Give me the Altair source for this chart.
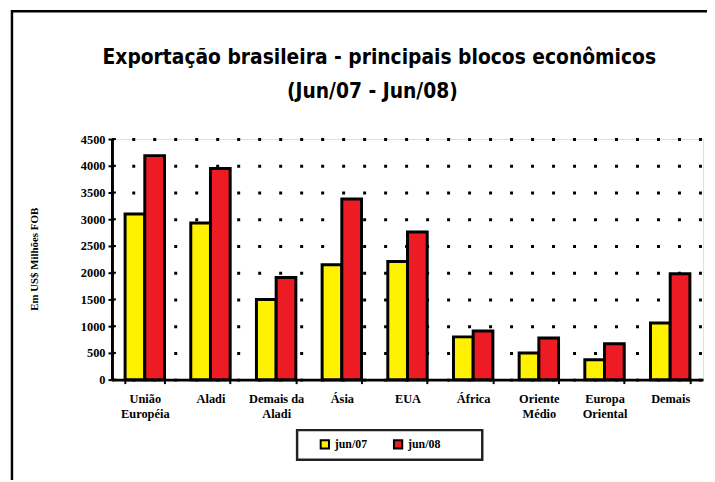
import altair as alt
import pandas as pd

categories = ["União Européia", "Aladi", "Demais da Aladi", "Ásia", "EUA",
              "África", "Oriente Médio", "Europa Oriental", "Demais"]
jun07 = [3100, 2930, 1500, 2150, 2210, 800, 500, 370, 1060]
jun08 = [4190, 3950, 1910, 3380, 2760, 910, 780, 670, 1980]
series = ["jun/07", "jun/08"]
colors = ["#FFF200", "#ED1C24"]
y_ticks = [0, 500, 1000, 1500, 2000, 2500, 3000, 3500, 4000, 4500]
title_lines = ["Exportação brasileira - principais blocos econômicos", "(Jun/07 - Jun/08)"]

rows = []
for c, a, b in zip(categories, jun07, jun08):
    rows.append({"bloco": c, "serie": series[0], "valor": a})
    rows.append({"bloco": c, "serie": series[1], "valor": b})
df = pd.DataFrame(rows)
ticks_df = pd.DataFrame({"valor": y_ticks})

SERIF = "Liberation Serif, Times New Roman, serif"
NARROW = "Liberation Sans Narrow, Arial Narrow, DejaVu Sans Condensed, Liberation Sans, sans-serif"

label_expr = ("lastindexof(datum.label,' ') > 0 ? "
              "[substring(datum.label,0,lastindexof(datum.label,' ')), "
              "substring(datum.label,lastindexof(datum.label,' ')+1)] : datum.label")

y_enc = alt.Y("valor:Q", title="Em US$ Milhões FOB",
              scale=alt.Scale(domain=[0, 4500], nice=False),
              axis=alt.Axis(values=y_ticks, format="d", labelFont=SERIF, labelFontWeight="bold",
                            labelFontSize=12.5, labelColor="black", labelPadding=3,
                            tickSize=4, tickWidth=2, tickColor="black",
                            domainColor="black", domainWidth=3,
                            grid=True, gridColor="black", gridWidth=3,
                            gridDash=[3, 18.2], gridDashOffset=1.2,
                            titleFont=SERIF, titleFontWeight="bold", titleFontSize=11,
                            titleColor="black", titleAngle=270, titleX=-78, titleY=121,
                            titleAlign="center", titleBaseline="middle"))

bars = alt.Chart(df).mark_bar(stroke="black", strokeWidth=3, strokeJoin="miter").encode(
    x=alt.X("bloco:N", sort=categories, title=None,
            scale=alt.Scale(paddingInner=0.4, paddingOuter=0.2),
            axis=alt.Axis(labelExpr=label_expr, labelAngle=0, labelFont=SERIF,
                          labelFontWeight="bold", labelFontSize=12.5, labelColor="black",
                          labelPadding=9, labelLineHeight=15, tickBand="extent",
                          tickSize=4, tickWidth=2, tickColor="black",
                          domainColor="black", domainWidth=3, grid=False)),
    xOffset=alt.XOffset("serie:N", sort=series),
    y=y_enc,
    fill=alt.Fill("serie:N", sort=series,
                  scale=alt.Scale(domain=series, range=colors),
                  legend=alt.Legend(title=None, orient="none", legendX=209, legendY=302,
                                    direction="horizontal", columns=2,
                                    symbolType="square", symbolSize=70,
                                    symbolStrokeColor="black", symbolStrokeWidth=2,
                                    labelFont=SERIF, labelFontWeight="bold",
                                    labelFontSize=12, labelColor="black",
                                    columnPadding=22, padding=0)),
)

inner_ticks = alt.Chart(ticks_df).mark_rule(color="black", strokeWidth=2).encode(
    x=alt.value(0), x2=alt.value(4), y=y_enc)

one = alt.Data(values=[{"k": 1}])
frame_left = alt.Chart(one).mark_rule(color="black", strokeWidth=2.5).encode(
    x=alt.value(-101), y=alt.value(-130), y2=alt.value(400))
frame_top = alt.Chart(one).mark_rule(color="black", strokeWidth=2.5).encode(
    x=alt.value(-102), x2=alt.value(700), y=alt.value(-129))

legend_box = alt.Chart(one).mark_rect(fill="white", stroke="#222222", strokeWidth=2.5).encode(
    x=alt.value(187), x2=alt.value(374), y=alt.value(294), y2=alt.value(324))

title1 = alt.Chart(one).mark_text(
    text=title_lines[0], font=NARROW, fontSize=21, fontWeight="bold", color="black",
    align="center", baseline="alphabetic").encode(x=alt.value(270), y=alt.value(-76))
title2 = alt.Chart(one).mark_text(
    text=title_lines[1], font=NARROW, fontSize=21, fontWeight="bold", color="black",
    align="center", baseline="alphabetic").encode(x=alt.value(263), y=alt.value(-41))

chart = alt.layer(bars, inner_ticks, frame_left, frame_top, legend_box, title1, title2).properties(
    width=597, height=243,
    autosize=alt.AutoSizeParams(type="none"),
    padding={"left": 105, "top": 130, "right": 4, "bottom": 99},
).configure_view(stroke=None).configure(background="white")

chart.save("out.html", embed_options={"renderer": "svg", "actions": False})
